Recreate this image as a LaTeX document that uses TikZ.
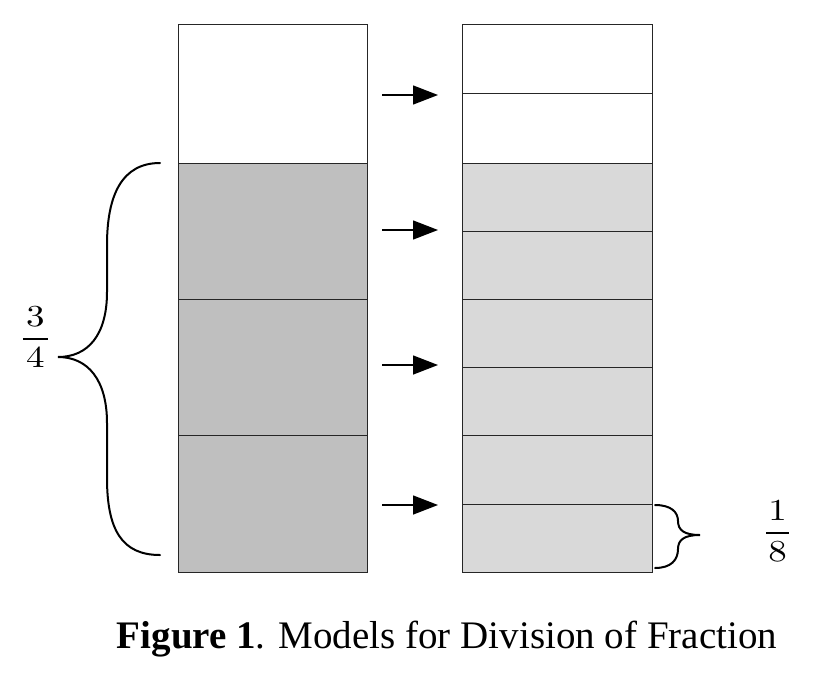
\documentclass[tikz,border=0pt]{standalone}
\usepackage{fontspec}
\newfontfamily\capfont{Liberation Serif}
\usetikzlibrary{arrows.meta}
\begin{document}
\begin{tikzpicture}[x=1pt,y=-1pt,
  cell/.style={draw=black!85,line width=1pt,anchor=north west,inner sep=0pt,outer sep=0pt},
  dark/.style={cell,fill=black!25},
  light/.style={cell,fill=black!15},
  plain/.style={cell,fill=white},
  arr/.style={line width=1.4pt,-{Triangle[length=25pt,width=19pt]}},
  brace/.style={line width=2pt,line cap=round},
  frac/.style={inner sep=0pt,xscale=3.7,yscale=3.05}]
\useasboundingbox (0,0) rectangle (826,674);
% left column
\node[plain,minimum width=189pt,minimum height=138pt] (L1) at (178,25) {};
\node[dark,minimum width=189pt,minimum height=136pt] (L2) at (178,163) {};
\node[dark,minimum width=189pt,minimum height=136pt] (L3) at (178,299) {};
\node[dark,minimum width=189pt,minimum height=137pt] (L4) at (178,435) {};
% right column
\node[plain,minimum width=190pt,minimum height=69pt] (R1) at (462,25) {};
\node[plain,minimum width=190pt,minimum height=69pt] (R2) at (462,94) {};
\node[light,minimum width=190pt,minimum height=68pt] (R3) at (462,163) {};
\node[light,minimum width=190pt,minimum height=68pt] (R4) at (462,231) {};
\node[light,minimum width=190pt,minimum height=68pt] (R5) at (462,299) {};
\node[light,minimum width=190pt,minimum height=68pt] (R6) at (462,367) {};
\node[light,minimum width=190pt,minimum height=69pt] (R7) at (462,435) {};
\node[light,minimum width=190pt,minimum height=68pt] (R8) at (462,504) {};
% arrows
\foreach \r/\dy in {R2/-1,R4/1,R6/2,R8/-1}{
  \draw[arr] ([xshift=-80pt,yshift=\dy pt]\r.north west) -- ([xshift=-24pt,yshift=\dy pt]\r.north west);
}
% big brace
\coordinate (bt) at (160,163);
\coordinate (bb) at (160,555);
\coordinate (btip) at (58,357);
\draw[brace] (bt) .. controls (122,163) and (107,195) .. (107,245) -- (107,292)
  .. controls (107,335) and (88,357) .. (btip)
  .. controls (88,357) and (107,380) .. (107,423) -- (107,478)
  .. controls (107,530) and (122,555) .. (bb);
\node[frac] (f34) at (35.5,337) {$\displaystyle\frac{\hspace{0.9pt}3\hspace{0.9pt}}{\hspace{0.9pt}4\hspace{0.9pt}}$};
% small brace
\coordinate (st) at (655,505);
\coordinate (sb) at (655,568);
\coordinate (stip) at (700,535);
\draw[brace] (st) .. controls (671,505) and (678,512) .. (678,521)
  .. controls (678,530) and (684,535) .. (stip)
  .. controls (684,535) and (678,540) .. (678,549)
  .. controls (678,560) and (671,568) .. (sb);
\node[frac] (f18) at (777.5,531) {$\displaystyle\frac{\hspace{0.6pt}1\hspace{0.6pt}}{\hspace{0.6pt}8\hspace{0.6pt}}$};
% caption
\node[anchor=base,inner sep=0pt,font=\capfont\fontsize{39}{44}\selectfont] (cap) at (447,648) {\textbf{Figure 1}. Models for Division of Fraction};
\end{tikzpicture}
\end{document}
